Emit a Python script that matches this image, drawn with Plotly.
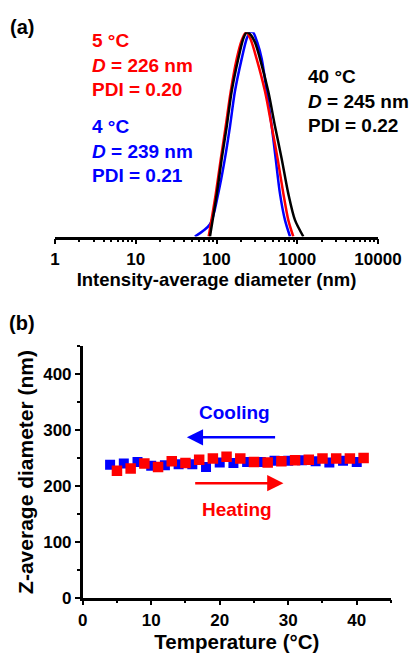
import plotly.graph_objects as go

# ---------- Panel (a): intensity distributions ----------
size_40C = [83, 101, 116, 134, 154, 186, 215, 237, 262, 300, 346, 438, 530, 642, 775, 938, 1188]
int_40C = [0, 21, 38, 54, 71, 87, 97, 100, 99, 95, 87, 71, 54, 38, 21, 8, 0]

size_5C = [80, 98, 113, 130, 150, 178, 205, 232, 262, 314, 399, 482, 572, 673, 775, 893]
int_5C = [0, 21, 38, 54, 71, 87, 96, 100, 97, 87, 71, 54, 38, 21, 8, 0]

size_4C = [54, 83, 105, 127, 147, 169, 205, 237, 260, 283, 320, 363, 419, 483, 541, 611, 705, 813]
int_4C = [0, 6, 21, 38, 54, 71, 87, 97, 100, 100, 95, 87, 71, 54, 38, 21, 8, 0]

x_ticks_a = [1, 10, 100, 1000, 10000]
minor_digits = [2, 3, 4, 5, 6, 7, 8, 9]

# ---------- Panel (b): Z-average vs temperature ----------
T_cool = [4, 6, 8, 10, 12, 14, 16, 18, 20, 22, 24, 26, 28, 30, 32, 34, 36, 38, 40]
D_cool = [238, 240, 243, 236, 237, 239, 239, 234, 242, 241, 243, 243, 245, 245, 246, 244, 242, 245, 243]
D_cool_err = [6, 6, 6, 6, 6, 6, 6, 7, 6, 6, 6, 6, 6, 6, 6, 6, 7, 6, 6]

T_heat = [5, 7, 9, 11, 13, 15, 17, 19, 21, 23, 25, 27, 29, 31, 33, 35, 37, 39, 41]
D_heat = [227, 231, 240, 234, 244, 241, 247, 249, 252, 249, 243, 242, 244, 246, 247, 249, 249, 249, 250]

RED = "#ff0000"
BLUE = "#0000ff"
FONT = "Liberation Sans, Arial, sans-serif"

fig = go.Figure()

line_kw = dict(shape="spline", smoothing=0.8, width=2.5)
fig.add_trace(go.Scatter(x=size_4C, y=int_4C, mode="lines", line=dict(color=BLUE, **line_kw),
                         xaxis="x", yaxis="y", showlegend=False))
fig.add_trace(go.Scatter(x=size_5C, y=int_5C, mode="lines", line=dict(color=RED, **line_kw),
                         xaxis="x", yaxis="y", showlegend=False))
fig.add_trace(go.Scatter(x=size_40C, y=int_40C, mode="lines", line=dict(color="black", **line_kw),
                         xaxis="x", yaxis="y", showlegend=False))

fig.add_trace(go.Scatter(x=T_cool, y=D_cool, mode="markers",
                         marker=dict(symbol="square", size=10, color=BLUE),
                         error_y=dict(type="data", array=D_cool_err, color=BLUE, thickness=2, width=0),
                         xaxis="x2", yaxis="y2", showlegend=False))
fig.add_trace(go.Scatter(x=T_heat, y=D_heat, mode="markers",
                         marker=dict(symbol="square", size=10.5, color=RED),
                         xaxis="x2", yaxis="y2", showlegend=False))

W, H = 410, 655
def px(x):
    return x / W
def py(y):
    return 1 - y / H

minor_vals_a = [d * m for d in x_ticks_a[:-1] for m in minor_digits]

axis_common = dict(showline=True, linecolor="black", linewidth=2.5, ticks="outside",
                   tickcolor="black", tickwidth=2, showgrid=False, zeroline=False,
                   automargin=False,
                   tickfont=dict(family=FONT, size=17, color="black", weight="bold"))

fig.update_layout(
    width=W, height=H,
    margin=dict(l=0, r=0, t=0, b=0, autoexpand=False),
    paper_bgcolor="white", plot_bgcolor="white",
    xaxis=dict(type="log", range=[0, 4], domain=[px(55), px(378)], anchor="y",
               tickvals=x_ticks_a, ticktext=[str(v) for v in x_ticks_a], ticklen=5,
               minor=dict(ticks="outside", ticklen=3, tickwidth=1.5, tickcolor="black",
                          tickmode="array", tickvals=minor_vals_a),
               title=dict(text="Intensity-average diameter (nm)", standoff=4,
                          font=dict(family=FONT, size=18.5, color="black", weight="bold")),
               **axis_common),
    yaxis=dict(range=[0, 100], domain=[py(236.5), py(32.3)], anchor="x", visible=False,
               automargin=False),
    xaxis2=dict(range=[0, 45], domain=[px(82.7), px(391)], anchor="y2",
                tickvals=[0, 10, 20, 30, 40], ticklen=5,
                minor=dict(ticks="outside", ticklen=3, tickwidth=1.5, tickcolor="black", dtick=5),
                title=dict(text="Temperature (°C)", standoff=6,
                           font=dict(family=FONT, size=20.5, color="black", weight="bold")),
                **axis_common),
    yaxis2=dict(range=[0, 450], domain=[py(597.7), py(346.2)], anchor="x2",
                tickvals=[0, 100, 200, 300, 400], ticklen=5,
                minor=dict(ticks="outside", ticklen=3, tickwidth=1.5, tickcolor="black", dtick=50),
                title=dict(text="Z-average diameter (nm)", standoff=4,
                           font=dict(family=FONT, size=21, color="black", weight="bold")),
                **axis_common),
)

def text_ann(x, y, text, color, size=19, xanchor="left", yanchor="top", xref="paper", yref="paper"):
    fig.add_annotation(x=x, y=y, xref=xref, yref=yref, text=text, showarrow=False,
                       xanchor=xanchor, yanchor=yanchor, align="left",
                       font=dict(family=FONT, size=size, color=color, weight="bold"))

text_ann(px(8), py(14), "(a)", "black", size=20)
text_ann(px(7), py(310), "(b)", "black", size=20)

text_ann(px(90), py(28), "5 °C<br><i>D</i> = 226 nm<br>PDI = 0.20", RED)
text_ann(px(90), py(114), "4 °C<br><i>D</i> = 239 nm<br>PDI = 0.21", BLUE)
text_ann(px(306), py(64), "40 °C<br><i>D</i> = 245 nm<br>PDI = 0.22", "black")

text_ann(22.2, 331, "Cooling", BLUE, xanchor="center", yanchor="middle", xref="x2", yref="y2")
text_ann(22.5, 157, "Heating", RED, xanchor="center", yanchor="middle", xref="x2", yref="y2")

fig.add_annotation(x=15.2, y=287, ax=28.3, ay=287, xref="x2", yref="y2", axref="x2", ayref="y2",
                   showarrow=True, arrowhead=2, arrowsize=1.3, arrowwidth=2.5, arrowcolor=BLUE, text="")
fig.add_annotation(x=29.3, y=205, ax=16.2, ay=205, xref="x2", yref="y2", axref="x2", ayref="y2",
                   showarrow=True, arrowhead=2, arrowsize=1.3, arrowwidth=2.5, arrowcolor=RED, text="")

fig.write_html("out.html")
